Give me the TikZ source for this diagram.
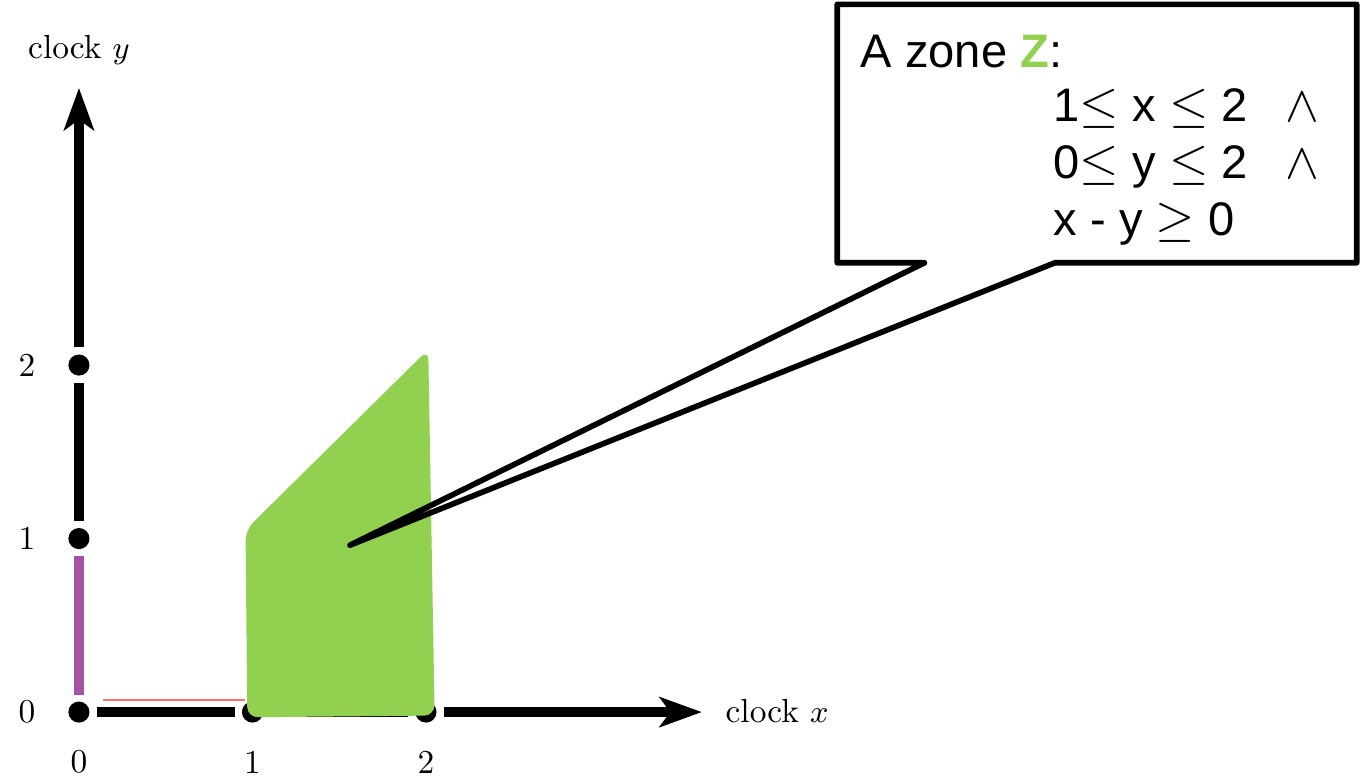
\documentclass[tikz,border=0pt]{standalone}
\usepackage{fontspec}
\usepackage{tikz}
\usetikzlibrary{positioning,arrows.meta,calc}
\newfontfamily\calloutfont{Liberation Sans}
\definecolor{zonegreen}{RGB}{146,208,80}
\definecolor{edgepurple}{RGB}{165,82,165}
\definecolor{tracered}{RGB}{255,110,110}
\tikzset{
    tick dot/.style={circle, fill=black, minimum size=6pt, inner sep=0pt, outer sep=2pt},
    axis line/.style={line width=3pt},
    axis tip/.style={-{Stealth[length=12pt, width=8.5pt, inset=3pt]}},
    axis label/.style={font=\fontsize{9.5}{11}\selectfont, inner sep=0pt},
    callout line/.style={line width=1.6pt, line join=round, line cap=round},
    zone text/.style={font=\calloutfont\fontsize{13.4}{16}\selectfont, inner sep=0pt, anchor=base west}
}

\begin{document}
\begin{tikzpicture}[x=1.735cm, y=1.735cm]
    \useasboundingbox (-0.455,-0.3746) rectangle (7.383,4.104);

    % ticks on the two clocks
    \node[tick dot] (o) at (0,0) {};
    \node[tick dot] (x1) at (1,0) {};
    \node[tick dot] (x2) at (2,0) {};
    \node[tick dot] (y1) at (0,1) {};
    \node[tick dot] (y2) at (0,2) {};
    \coordinate (xend) at (3.59,0);
    \coordinate (yend) at (0,3.597);

    \draw[axis line] (o) -- (x1);
    \draw[axis line] (x1) -- (x2);
    \draw[axis line, axis tip] (x2) -- (xend);
    \draw[axis line, edgepurple] (o) -- (y1);
    \draw[axis line] (y1) -- (y2);
    \draw[axis line, axis tip] (y2) -- (yend);
    \draw[tracered, line width=0.4pt] (0.138,0.069) -- (0.957,0.069);

    \node[axis label] (lx0) at (0,-0.288) {0};
    \node[axis label] (lx1) at (1,-0.288) {1};
    \node[axis label] (lx2) at (2,-0.288) {2};
    \node[axis label] (ly0) at (-0.30,0) {0};
    \node[axis label] (ly1) at (-0.30,1) {1};
    \node[axis label] (ly2) at (-0.30,2) {2};
    \node[axis label, anchor=base west] (clockx) at (3.723,-0.058) {clock $x$};
    \node[axis label, anchor=base] (clocky) at (0,3.769) {clock $y$};

    % the zone
    \fill[zonegreen, rounded corners=3pt] (0.96,1.05) -- (2.013,2.09) -- (2.05,-0.02) -- (0.97,-0.03) -- cycle;

    % callout
    \node[minimum width=5.18cm, minimum height=2.57cm, inner sep=0pt] (zonebox) at (5.867,3.334) {};
    \coordinate (tip) at (1.562,0.962);
    \path (zonebox.south west) -- (zonebox.south east)
        coordinate[pos=0.168] (base1) coordinate[pos=0.419] (base2);
    \draw[callout line] (zonebox.south west) -- (zonebox.north west) -- (zonebox.north east)
        -- (zonebox.south east) -- (base2) -- (tip) -- (base1) -- cycle;

    \node[zone text] (title) at (4.501,3.712) {A zone {\bfseries\color{zonegreen}Z}:};
    \node[zone text] (cx) at (5.614,3.401) {\makebox[66pt][l]{1$\leq$ x $\leq$ 2}$\wedge$};
    \node[zone text] (cy) at (5.614,3.078) {\makebox[66pt][l]{0$\leq$ y $\leq$ 2}$\wedge$};
    \node[zone text] (cxy) at (5.614,2.749) {x - y $\geq$ 0};
\end{tikzpicture}
\end{document}
